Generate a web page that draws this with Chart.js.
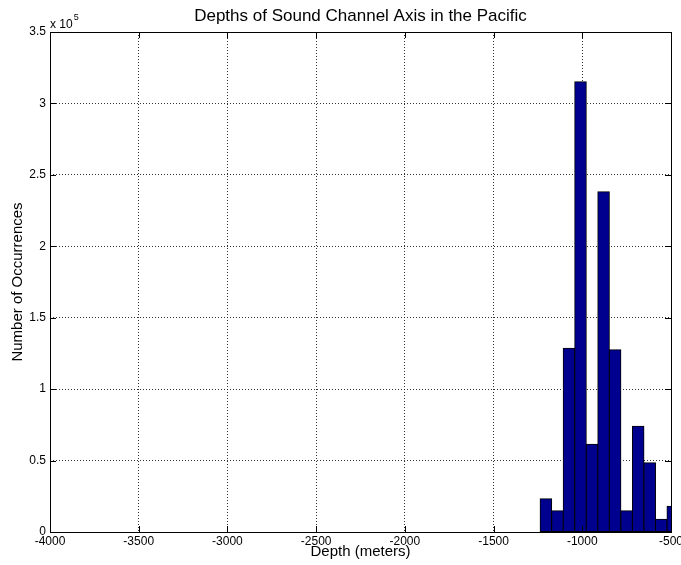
<!DOCTYPE html>
<html>
<head>
<meta charset="utf-8">
<script src="https://cdn.jsdelivr.net/npm/chart.js@4/dist/chart.umd.min.js"></script>
<style>
  html, body { margin: 0; padding: 0; background: #fff; }
  canvas { display: block; }
</style>
</head>
<body>
<canvas id="c" width="681" height="565"></canvas>
<script>
// ---- Data ----
const binCenters = [-1205, -1140, -1075, -1010, -945, -880, -815, -750, -685, -620, -555, -490];
const counts     = [23300, 14900, 128600, 315200, 61400, 238200, 127600, 14900, 74000, 48500, 8900, 18000];
const xRange = [-4000, -500];
const xStep = 500;
const yRange = [0, 350000];
const yStep = 50000;
const yExponent = 5;
const titleText = 'Depths of Sound Channel Axis in the Pacific';
const xLabel = 'Depth (meters)';
const yLabel = 'Number of Occurrences';

const FONT = "'Liberation Sans', Arial, Helvetica, sans-serif";
Chart.defaults.color = '#000';
Chart.defaults.font.family = FONT;

const points = binCenters.map((x, i) => ({ x: x, y: counts[i] }));

// Box, inward tick marks and exponent label (MATLAB-like axes)
const axesDecor = {
  id: 'axesDecor',
  afterDatasetsDraw(chart) {
    const { ctx, chartArea: a, scales } = chart;
    const tl = 6;
    ctx.save();
    ctx.strokeStyle = '#000';
    ctx.lineWidth = 1;
    ctx.beginPath();
    scales.x.ticks.forEach((t, i) => {
      const px = Math.round(scales.x.getPixelForTick(i)) + 0.5;
      ctx.moveTo(px, a.bottom); ctx.lineTo(px, a.bottom - tl);
      ctx.moveTo(px, a.top); ctx.lineTo(px, a.top + tl);
    });
    scales.y.ticks.forEach((t, i) => {
      const py = Math.round(scales.y.getPixelForTick(i)) + 0.5;
      ctx.moveTo(a.left, py); ctx.lineTo(a.left + tl, py);
      ctx.moveTo(a.right, py); ctx.lineTo(a.right - tl, py);
    });
    ctx.stroke();
    ctx.strokeRect(Math.round(a.left) + 0.5, Math.round(a.top) + 0.5,
                   Math.round(a.right - a.left), Math.round(a.bottom - a.top));
    // exponent label
    ctx.fillStyle = '#000';
    ctx.textBaseline = 'alphabetic';
    ctx.textAlign = 'left';
    ctx.font = '12px ' + FONT;
    const base = 'x 10';
    ctx.fillText(base, a.left, a.top - 4);
    const w = ctx.measureText(base).width;
    ctx.font = '9px ' + FONT;
    ctx.fillText(String(yExponent), a.left + w + 1, a.top - 12);
    ctx.restore();
  }
};

const gridCommon = {
  color: 'rgba(0,0,0,0.8)',
  lineWidth: 1,
  drawTicks: false,
  offset: false
};

new Chart(document.getElementById('c'), {
  type: 'bar',
  data: {
    datasets: [{
      data: points,
      backgroundColor: '#00008F',
      borderColor: '#000',
      borderWidth: 1,
      borderSkipped: false,
      inflateAmount: 0.5,
      barPercentage: 1,
      categoryPercentage: 1,
      clip: 0
    }]
  },
  options: {
    responsive: false,
    animation: false,
    layout: { padding: { top: 0, right: 10, bottom: 0, left: 0 } },
    plugins: {
      legend: { display: false },
      tooltip: { enabled: false },
      title: {
        display: true,
        text: titleText,
        fullSize: false,
        font: { size: 17, weight: 'normal', family: FONT, lineHeight: 1.2 },
        padding: { top: 6, bottom: 5.6 },
        color: '#000'
      }
    },
    scales: {
      x: {
        type: 'linear',
        min: xRange[0],
        max: xRange[1],
        offset: false,
        grid: gridCommon,
        border: { display: false, dash: [1, 2] },
        ticks: {
          stepSize: xStep,
          padding: 2,
          maxRotation: 0,
          autoSkip: false,
          font: { size: 12, family: FONT },
          callback: (v) => String(v)
        },
        title: {
          display: true,
          text: xLabel,
          font: { size: 15, family: FONT, lineHeight: 1.2 },
          padding: { top: 0, bottom: 4 }
        },
        afterFit(scale) {
          scale.height = 33;
          scale.paddingLeft = 0;
          scale.paddingRight = 0;
        }
      },
      y: {
        type: 'linear',
        min: yRange[0],
        max: yRange[1],
        grid: gridCommon,
        border: { display: false, dash: [1, 2] },
        ticks: {
          stepSize: yStep,
          padding: 4,
          font: { size: 12, family: FONT },
          callback: (v) => String(+(v / Math.pow(10, yExponent)).toFixed(2))
        },
        title: {
          display: true,
          text: yLabel,
          font: { size: 15, family: FONT, lineHeight: 1.2 },
          padding: { top: 9, bottom: 0 }
        },
        afterFit(scale) {
          scale.width = 50;
          scale.paddingTop = 0;
          scale.paddingBottom = 0;
        }
      }
    }
  },
  plugins: [axesDecor]
});
</script>
</body>
</html>
